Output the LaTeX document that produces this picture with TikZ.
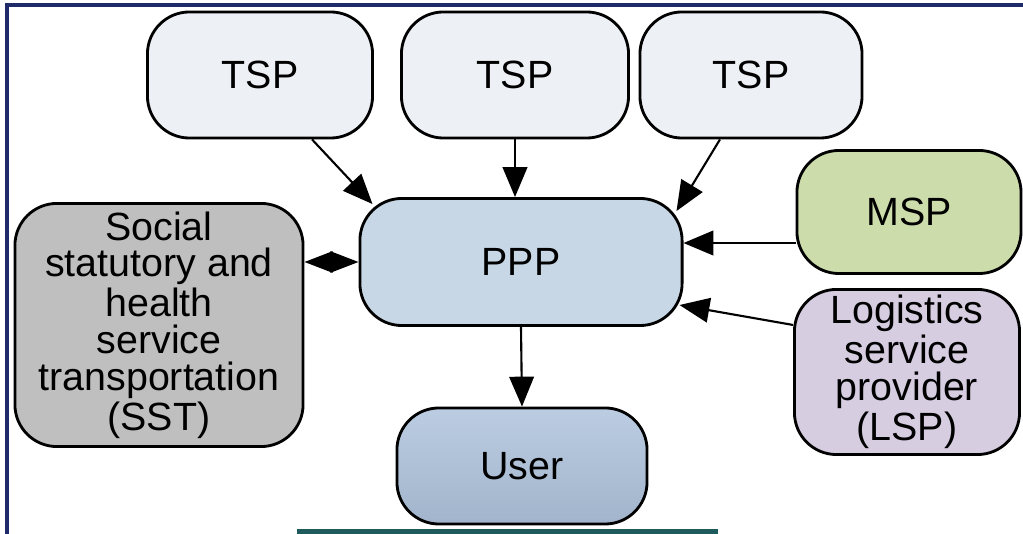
\documentclass[tikz,border=0pt]{standalone}
\usepackage{fontspec}
\setmainfont{Liberation Sans}
\usetikzlibrary{arrows.meta,calc}
\definecolor{frameblue}{HTML}{1F2A6B}
\definecolor{barteal}{HTML}{1F5A5C}
\definecolor{tspfill}{HTML}{EDF0F5}
\definecolor{pppfill}{HTML}{C8D7E6}
\definecolor{mspfill}{HTML}{CCDCAA}
\definecolor{sstfill}{HTML}{BFBFBF}
\definecolor{lspfill}{HTML}{D6CDE1}
\definecolor{userfill}{HTML}{B0C4DD}
\tikzset{
  box/.style={draw,line width=0.8pt,rounded corners=0.42cm,align=center,
    font=\fontsize{11.2}{10.4}\selectfont,inner sep=0pt},
  arr/.style={line width=0.6pt,-{Triangle[length=8.5pt,width=7pt]}},
  dbl/.style={line width=0.6pt,{Triangle[length=8pt,width=6pt]}-{Triangle[length=8pt,width=6pt]}}
}

\begin{document}
\begin{tikzpicture}[x=0.01cm,y=-0.01cm]
\useasboundingbox (0,0) rectangle (1023,534);
\draw[frameblue,line width=0.9pt] (7,534)--(7,5)--(1023,5);
\fill[barteal] (297,529) rectangle (718,534);
\node[box,fill=tspfill,minimum width=2.25cm,minimum height=1.26cm] (tsp1) at (260,75) {TSP};
\node[box,fill=tspfill,minimum width=2.27cm,minimum height=1.26cm] (tsp2) at (515,75) {TSP};
\node[box,fill=tspfill,minimum width=2.22cm,minimum height=1.26cm] (tsp3) at (751,75) {TSP};
\node[box,fill=pppfill,minimum width=3.22cm,minimum height=1.27cm] (ppp) at (521,262) {PPP};
\node[box,fill=mspfill,minimum width=2.24cm,minimum height=1.23cm] (msp) at (909,212) {MSP};
\node[box,fill=sstfill,minimum width=2.88cm,minimum height=2.43cm] (sst) at (159,325) {Social\\statutory and\\health\\service\\transportation\\(SST)};
\node[box,fill=lspfill,minimum width=2.25cm,minimum height=1.65cm] (lsp) at (907,372) {Logistics\\service\\provider\\(LSP)};
\node[box,top color=userfill!85!white,bottom color=userfill!92!black,minimum width=2.5cm,minimum height=1.16cm] (user) at (522,466) {User};
\draw[arr] ([xshift=0.52cm]tsp1.south) -- ([xshift=0.14cm,yshift=-0.07cm]ppp.north west);
\draw[arr] (tsp2.south) -- (tsp2.south |- ppp.north);
\draw[arr] ([xshift=-0.31cm]tsp3.south) -- ([xshift=-0.07cm,yshift=-0.14cm]ppp.north east);
\draw[arr] ([yshift=-0.31cm]msp.west) -- ([yshift=-0.31cm]msp.west -| ppp.east);
\draw[arr] ([yshift=0.47cm]lsp.west) -- ([xshift=-0.04cm,yshift=-0.43cm]ppp.east);
\draw[arr] (ppp.south) -- (user.north);
\draw[dbl] (sst.east |- ppp.west) -- (ppp.west);
\end{tikzpicture}
\end{document}
